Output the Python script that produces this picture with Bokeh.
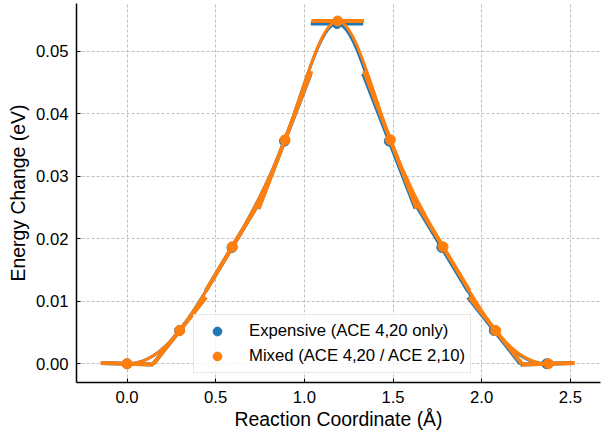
import numpy as np
from bokeh.plotting import figure
from bokeh.models import Range1d, Legend, LegendItem, FixedTicker
from bokeh.embed import file_html
from bokeh.resources import INLINE

# ---- data ----
series_names = ["Expensive (ACE 4,20 only)", "Mixed (ACE 4,20 / ACE 2,10)"]
series_colors = ["#1f77b4", "#ff7f0e"]

# path coordinate (Å) of each NEB image
s_expensive = [0.0, 0.296, 0.592, 0.888, 1.184, 1.479, 1.775, 2.071, 2.367]
s_mixed = [0.0, 0.297, 0.594, 0.891, 1.188, 1.485, 1.782, 2.079, 2.376]

# energies (eV)
e_expensive = [0.0, 0.0053, 0.0186, 0.0356, 0.0544, 0.0356, 0.0186, 0.0053, 0.0]
e_mixed = [0.0, 0.0053, 0.0187, 0.0358, 0.0548, 0.0358, 0.0187, 0.0053, 0.0]

# dE/ds at each image (eV/Å), from projected forces
d_expensive = [-0.0008, 0.036, 0.047, 0.073, 0.0, -0.073, -0.047, -0.036, 0.0008]
d_mixed = [-0.0008, 0.036, 0.047, 0.074, 0.0, -0.074, -0.047, -0.036, 0.0008]

x_ticks = [0.0, 0.5, 1.0, 1.5, 2.0, 2.5]
y_ticks = [0.0, 0.01, 0.02, 0.03, 0.04, 0.05]

FONT = "Liberation Sans"

p = figure(width=604, height=432, output_backend="svg", toolbar_location=None,
           x_range=Range1d(-0.285, 2.67), y_range=Range1d(-0.003, 0.0576),
           min_border_left=76, min_border_right=4, min_border_top=3, min_border_bottom=50)
p.outline_line_color = None
p.background_fill_color = "white"
p.border_fill_color = "white"

for ax in (p.xaxis[0], p.yaxis[0]):
    ax.axis_line_color = "black"
    ax.axis_line_width = 1.5
    ax.major_tick_in = 4
    ax.major_tick_out = 0
    ax.major_tick_line_color = "black"
    ax.major_tick_line_width = 1
    ax.minor_tick_line_color = None
    ax.major_label_text_font = FONT
    ax.major_label_text_font_size = "16.7px"
    ax.major_label_text_color = "black"
    ax.axis_label_text_font = FONT
    ax.axis_label_text_font_size = "19.4px"
    ax.axis_label_text_font_style = "normal"
    ax.axis_label_text_color = "black"

p.xaxis.ticker = FixedTicker(ticks=x_ticks)
p.yaxis.ticker = FixedTicker(ticks=y_ticks)
p.xaxis.major_label_overrides = {t: f"{t:.1f}" for t in x_ticks}
p.yaxis.major_label_overrides = {t: f"{t:.2f}" for t in y_ticks}
p.xaxis.axis_label = "Reaction Coordinate (Å)"
p.yaxis.axis_label = "Energy Change (eV)"
p.xaxis.major_label_standoff = 8
p.yaxis.major_label_standoff = 8
p.xaxis.axis_label_standoff = 2
p.yaxis.axis_label_standoff = 4

for g in (p.xgrid[0], p.ygrid[0]):
    g.grid_line_color = "#b0b0b0"
    g.grid_line_dash = "3 2"
    g.grid_line_width = 0.8
p.xgrid.ticker = FixedTicker(ticks=x_ticks)
p.ygrid.ticker = FixedTicker(ticks=y_ticks)

legend_items = []
for name, color, s, e, d in zip(series_names, series_colors,
                                [s_expensive, s_mixed], [e_expensive, e_mixed],
                                [d_expensive, d_mixed]):
    s = np.asarray(s); e = np.asarray(e); d = np.asarray(d)
    # fitted band: cubic Hermite pieces drawn as Bezier curves
    h = np.diff(s)
    p.bezier(x0=s[:-1], y0=e[:-1], x1=s[1:], y1=e[1:],
             cx0=s[:-1] + h / 3, cy0=e[:-1] + d[:-1] * h / 3,
             cx1=s[1:] - h / 3, cy1=e[1:] - d[1:] * h / 3,
             line_color=color, line_width=3)
    # tangent segments at each image
    n = len(s)
    ds = np.empty(n)
    ds[0] = 0.5 * (s[1] - s[0])
    ds[-1] = 0.5 * (s[-1] - s[-2])
    ds[1:-1] = 0.25 * (s[2:] - s[:-2])
    p.segment(x0=s - ds, y0=e - d * ds, x1=s + ds, y1=e + d * ds,
              line_color=color, line_width=4)
    r = p.scatter(x=s, y=e, size=10, marker="circle", fill_color=color,
                  line_color=color)
    legend_items.append(LegendItem(label=name, renderers=[r]))

legend = Legend(items=legend_items, location=(117, 9))
legend.label_text_font = FONT
legend.label_text_font_size = "16.7px"
legend.label_text_color = "black"
legend.glyph_height = 22
legend.glyph_width = 36
legend.label_height = 17
legend.label_standoff = 14
legend.spacing = 3
legend.padding = 5
legend.margin = 0
legend.border_line_color = "#d0d0d0"
legend.border_line_width = 1
legend.background_fill_color = "white"
legend.background_fill_alpha = 0.8
p.add_layout(legend, "center")

open("out.html", "w").write(file_html(p, INLINE))
